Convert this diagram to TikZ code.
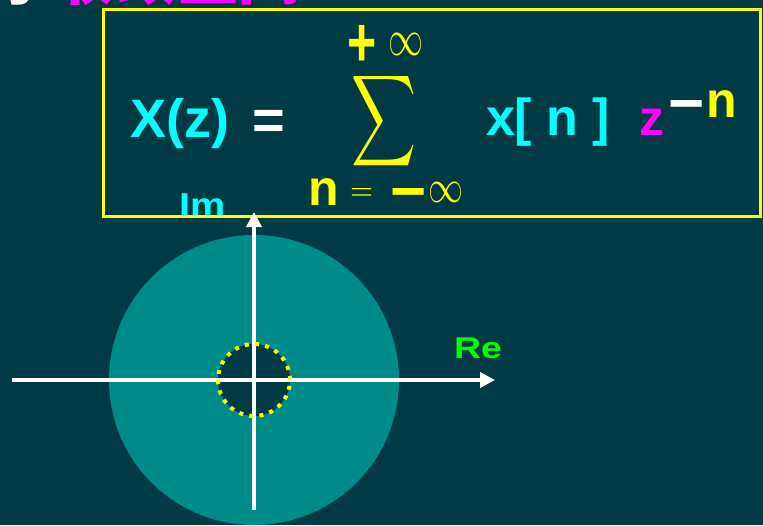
\documentclass[tikz,border=0pt]{standalone}
\usepackage{fontspec}
\setmainfont{Liberation Sans}
\newfontfamily\cjkfont{Noto Sans CJK SC}
\usepackage{graphicx}
\usetikzlibrary{arrows.meta}
\definecolor{bgc}{RGB}{0,59,69}
\definecolor{discc}{RGB}{0,139,139}
\definecolor{cyanc}{RGB}{0,255,255}
\definecolor{yelc}{RGB}{255,255,0}
\definecolor{magc}{RGB}{255,0,255}
\definecolor{grnc}{RGB}{0,255,0}
\newcommand\myfs[1]{\fontsize{#1}{#1}\selectfont}
\begin{document}
\begin{tikzpicture}[x=1pt,y=-1pt,
  txt/.style={inner sep=0pt, outer sep=0pt, font=\bfseries},
  axis/.style={draw=white, line width=3.5pt, -{Triangle[length=15pt,width=15pt]}},
  framebox/.style={draw=yelc, line width=3pt}]
\useasboundingbox (0,0) rectangle (763,525);
\fill[bgc] (0,0) rectangle (763,525);

% clipped title
\node[txt, text=white, anchor=base west] (de) at (-27,-1) {\cjkfont\bfseries\myfs{62}的};
\node[txt, text=magc, anchor=base west] (title) at (52,-1) {\cjkfont\bfseries\myfs{62}收敛区间};

% Im label (behind frame)
\node[txt, text=cyanc, anchor=base west] (im) at (179,216) {\myfs{33}\scalebox{1.2}[1]{Im}};

% frame
\draw[framebox] (103.5,9) rectangle (760,216.5);

% formula
\node[txt, text=cyanc, anchor=base west] (Xz) at (130,137) {\myfs{54}X(z)};
\node[txt, text=white, anchor=north] (eq) at (268.5,110) {\myfs{56}=};
\node[txt, text=yelc, anchor=north] (plus) at (362.5,25) {\myfs{50}\scalebox{1}[1.4]{+}};
\node[txt, text=yelc, anchor=center] (inftop) at (405.5,44) {\resizebox*{35pt}{22pt}{$\infty$}};
\node[txt, text=yelc, anchor=center] (sum) at (384.5,121) {\resizebox*{65pt}{102pt}{$\displaystyle\sum$}};
\node[txt, text=yelc, anchor=base west] (nlow) at (308,205) {\myfs{50}n};
\node[txt, text=yelc, anchor=center] (eqlow) at (361.5,194) {\resizebox*{23pt}{12pt}{$=$}};
\node[txt, text=yelc, anchor=north] (minuslow) at (408.5,188) {\myfs{62}−};
\node[txt, text=yelc, anchor=center] (inflow) at (445.5,192) {\resizebox*{35pt}{20pt}{$\infty$}};
\node[txt, text=cyanc, anchor=base west] (xn) at (486,135) {\myfs{52}x[ n ]};
\node[txt, text=magc, anchor=base west] (z) at (639,135) {\myfs{50}z};
\node[txt, text=white, anchor=north] (minusexp) at (686.5,100) {\myfs{62}−};
\node[txt, text=yelc, anchor=base west] (nexp) at (706,117) {\myfs{50}n};

% plane
\coordinate (O) at (254,380);
\coordinate (xL) at (12,380);
\coordinate (xR) at (495,380);
\coordinate (yB) at (254,510);
\coordinate (yT) at (254,212);
\fill[discc] (O) circle[radius=145pt];
\fill[bgc] (O) circle[radius=36pt];
\draw[axis] (xL) -- (xR);
\draw[axis] (yB) -- (yT);
\draw[yelc, line width=4pt, dash pattern=on 4pt off 6.3pt] (O) circle[radius=36pt];
\node[txt, text=grnc, anchor=base west] (re) at (454,358) {\myfs{30}\scalebox{1.25}[1]{Re}};
\end{tikzpicture}
\end{document}
